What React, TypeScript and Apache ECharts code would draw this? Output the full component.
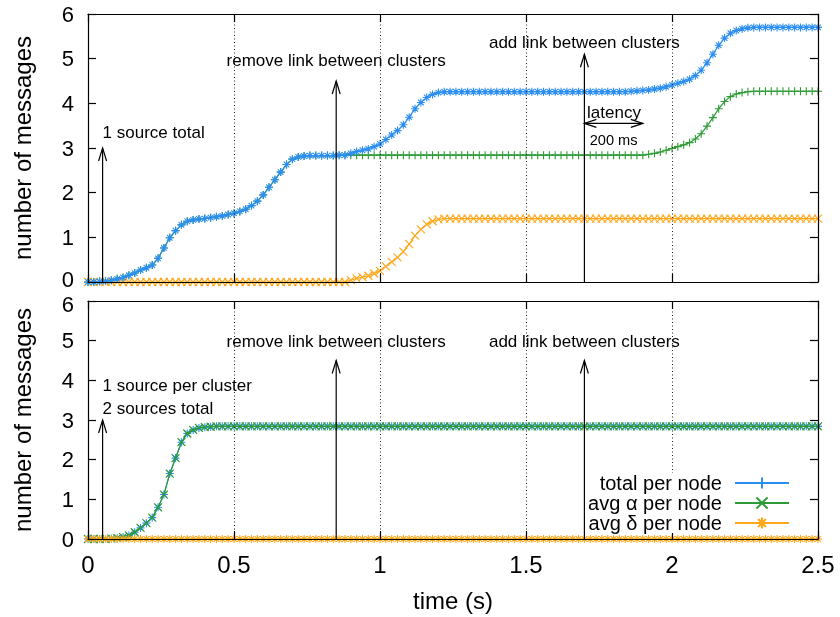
import React, { useEffect, useRef } from "react";
import * as echarts from "echarts";

// sampling step of the simulation output (seconds)
const TIME_STEP = 0.02;

// ---- top panel: 1 source total ----
const topTotal = [
  0, 0, 0.01, 0.02, 0.04, 0.07, 0.1, 0.15, 0.2, 0.27,
  0.32, 0.38, 0.53, 0.76, 0.99, 1.15, 1.28, 1.36, 1.39, 1.41,
  1.42, 1.44, 1.46, 1.48, 1.51, 1.54, 1.58, 1.63, 1.71, 1.81,
  1.95, 2.12, 2.29, 2.46, 2.63, 2.75, 2.8, 2.82, 2.83, 2.83,
  2.83, 2.83, 2.83, 2.84, 2.84, 2.88, 2.92, 2.95, 2.98, 3.03,
  3.09, 3.19, 3.29, 3.39, 3.52, 3.69, 3.88, 4.02, 4.13, 4.2,
  4.24, 4.26, 4.26, 4.26, 4.26, 4.26, 4.26, 4.26, 4.26, 4.26,
  4.26, 4.26, 4.26, 4.26, 4.26, 4.26, 4.26, 4.26, 4.26, 4.26,
  4.26, 4.26, 4.26, 4.26, 4.26, 4.26, 4.26, 4.26, 4.26, 4.26,
  4.26, 4.26, 4.26, 4.27, 4.28, 4.29, 4.3, 4.32, 4.34, 4.37,
  4.41, 4.45, 4.49, 4.54, 4.62, 4.74, 4.91, 5.1, 5.3, 5.46,
  5.57, 5.63, 5.67, 5.69, 5.7, 5.7, 5.7, 5.7, 5.7, 5.7,
  5.7, 5.7, 5.7, 5.7, 5.7, 5.7,
];
const topAlpha = [
  0, 0, 0.01, 0.02, 0.04, 0.07, 0.1, 0.15, 0.2, 0.27,
  0.32, 0.38, 0.53, 0.76, 0.99, 1.15, 1.28, 1.36, 1.39, 1.41,
  1.42, 1.44, 1.46, 1.48, 1.51, 1.54, 1.58, 1.63, 1.71, 1.81,
  1.95, 2.12, 2.29, 2.46, 2.63, 2.75, 2.8, 2.82, 2.83, 2.83,
  2.83, 2.83, 2.83, 2.84, 2.84, 2.84, 2.84, 2.84, 2.84, 2.84,
  2.84, 2.84, 2.84, 2.84, 2.84, 2.84, 2.84, 2.84, 2.84, 2.84,
  2.84, 2.84, 2.84, 2.84, 2.84, 2.84, 2.84, 2.84, 2.84, 2.84,
  2.84, 2.84, 2.84, 2.84, 2.84, 2.84, 2.84, 2.84, 2.84, 2.84,
  2.84, 2.84, 2.84, 2.84, 2.84, 2.84, 2.84, 2.84, 2.84, 2.84,
  2.84, 2.84, 2.84, 2.84, 2.84, 2.84, 2.86, 2.88, 2.91, 2.95,
  2.99, 3.03, 3.07, 3.12, 3.2, 3.32, 3.49, 3.68, 3.88, 4.04,
  4.15, 4.21, 4.24, 4.26, 4.27, 4.27, 4.27, 4.27, 4.27, 4.27,
  4.27, 4.27, 4.27, 4.27, 4.27, 4.27,
];
const topDelta = [
  0, 0, 0, 0, 0, 0, 0, 0, 0, 0,
  0, 0, 0, 0, 0, 0, 0, 0, 0, 0,
  0, 0, 0, 0, 0, 0, 0, 0, 0, 0,
  0, 0, 0, 0, 0, 0, 0, 0, 0, 0,
  0, 0, 0, 0, 0, 0.04, 0.08, 0.11, 0.14, 0.19,
  0.25, 0.35, 0.45, 0.55, 0.68, 0.85, 1.04, 1.18, 1.29, 1.36,
  1.4, 1.42, 1.42, 1.42, 1.42, 1.42, 1.42, 1.42, 1.42, 1.42,
  1.42, 1.42, 1.42, 1.42, 1.42, 1.42, 1.42, 1.42, 1.42, 1.42,
  1.42, 1.42, 1.42, 1.42, 1.42, 1.42, 1.42, 1.42, 1.42, 1.42,
  1.42, 1.42, 1.42, 1.42, 1.42, 1.42, 1.42, 1.42, 1.42, 1.42,
  1.42, 1.42, 1.42, 1.42, 1.42, 1.42, 1.42, 1.42, 1.42, 1.42,
  1.42, 1.42, 1.42, 1.42, 1.42, 1.42, 1.42, 1.42, 1.42, 1.42,
  1.42, 1.42, 1.42, 1.42, 1.42, 1.42,
];

// ---- bottom panel: 1 source per cluster ----
const bottomTotal = [
  0, 0, 0, 0, 0.01, 0.02, 0.05, 0.09, 0.17, 0.28,
  0.4, 0.54, 0.8, 1.12, 1.65, 2.04, 2.44, 2.66, 2.75, 2.8,
  2.82, 2.83, 2.84, 2.84, 2.84, 2.84, 2.84, 2.84, 2.84, 2.84,
  2.84, 2.84, 2.84, 2.84, 2.84, 2.84, 2.84, 2.84, 2.84, 2.84,
  2.84, 2.84, 2.84, 2.84, 2.84, 2.84, 2.84, 2.84, 2.84, 2.84,
  2.84, 2.84, 2.84, 2.84, 2.84, 2.84, 2.84, 2.84, 2.84, 2.84,
  2.84, 2.84, 2.84, 2.84, 2.84, 2.84, 2.84, 2.84, 2.84, 2.84,
  2.84, 2.84, 2.84, 2.84, 2.84, 2.84, 2.84, 2.84, 2.84, 2.84,
  2.84, 2.84, 2.84, 2.84, 2.84, 2.84, 2.84, 2.84, 2.84, 2.84,
  2.84, 2.84, 2.84, 2.84, 2.84, 2.84, 2.84, 2.84, 2.84, 2.84,
  2.84, 2.84, 2.84, 2.84, 2.84, 2.84, 2.84, 2.84, 2.84, 2.84,
  2.84, 2.84, 2.84, 2.84, 2.84, 2.84, 2.84, 2.84, 2.84, 2.84,
  2.84, 2.84, 2.84, 2.84, 2.84, 2.84,
];
const bottomAlpha = [
  0, 0, 0, 0, 0.01, 0.02, 0.05, 0.09, 0.17, 0.28,
  0.4, 0.54, 0.8, 1.12, 1.65, 2.04, 2.44, 2.66, 2.75, 2.8,
  2.82, 2.83, 2.84, 2.84, 2.84, 2.84, 2.84, 2.84, 2.84, 2.84,
  2.84, 2.84, 2.84, 2.84, 2.84, 2.84, 2.84, 2.84, 2.84, 2.84,
  2.84, 2.84, 2.84, 2.84, 2.84, 2.84, 2.84, 2.84, 2.84, 2.84,
  2.84, 2.84, 2.84, 2.84, 2.84, 2.84, 2.84, 2.84, 2.84, 2.84,
  2.84, 2.84, 2.84, 2.84, 2.84, 2.84, 2.84, 2.84, 2.84, 2.84,
  2.84, 2.84, 2.84, 2.84, 2.84, 2.84, 2.84, 2.84, 2.84, 2.84,
  2.84, 2.84, 2.84, 2.84, 2.84, 2.84, 2.84, 2.84, 2.84, 2.84,
  2.84, 2.84, 2.84, 2.84, 2.84, 2.84, 2.84, 2.84, 2.84, 2.84,
  2.84, 2.84, 2.84, 2.84, 2.84, 2.84, 2.84, 2.84, 2.84, 2.84,
  2.84, 2.84, 2.84, 2.84, 2.84, 2.84, 2.84, 2.84, 2.84, 2.84,
  2.84, 2.84, 2.84, 2.84, 2.84, 2.84,
];
const bottomDelta = [
  0, 0, 0, 0, 0, 0, 0, 0, 0, 0,
  0, 0, 0, 0, 0, 0, 0, 0, 0, 0,
  0, 0, 0, 0, 0, 0, 0, 0, 0, 0,
  0, 0, 0, 0, 0, 0, 0, 0, 0, 0,
  0, 0, 0, 0, 0, 0, 0, 0, 0, 0,
  0, 0, 0, 0, 0, 0, 0, 0, 0, 0,
  0, 0, 0, 0, 0, 0, 0, 0, 0, 0,
  0, 0, 0, 0, 0, 0, 0, 0, 0, 0,
  0, 0, 0, 0, 0, 0, 0, 0, 0, 0,
  0, 0, 0, 0, 0, 0, 0, 0, 0, 0,
  0, 0, 0, 0, 0, 0, 0, 0, 0, 0,
  0, 0, 0, 0, 0, 0, 0, 0, 0, 0,
  0, 0, 0, 0, 0, 0,
];

const X_TICKS = [0, 0.5, 1, 1.5, 2, 2.5];
const LEGEND_NAMES = ["total per node", "avg α per node", "avg δ per node"];

// annotations (data coordinates)
const topArrows = [
  { t: 0.05, v: 3.0 },
  { t: 0.85, v: 4.5 },
  { t: 1.7, v: 5.1 },
];
const bottomArrows = [
  { t: 0.05, v: 3.0 },
  { t: 0.85, v: 4.5 },
  { t: 1.7, v: 4.5 },
];
const topLabels = [
  { text: "1 source total", t: 0.05, v: 3.34, align: "left", size: 17 },
  { text: "remove link between clusters", t: 0.85, v: 4.97, align: "center", size: 17 },
  { text: "add link between clusters", t: 1.7, v: 5.37, align: "center", size: 17 },
  { text: "latency", t: 1.709, v: 3.8, align: "left", size: 17 },
  { text: "200 ms", t: 1.8, v: 3.18, align: "center", size: 14.6 },
];
const bottomLabels = [
  { text: "1 source per cluster", t: 0.05, v: 3.88, align: "left", size: 17 },
  { text: "2 sources total", t: 0.05, v: 3.28, align: "left", size: 17 },
  { text: "remove link between clusters", t: 0.85, v: 4.99, align: "center", size: 17 },
  { text: "add link between clusters", t: 1.7, v: 4.99, align: "center", size: 17 },
];
const latency = { t0: 1.7, t1: 1.9, v: 3.55 };

const PLUS = "path://M5,0L5,10M0,5L10,5";
const CROSS = "path://M0,0L10,10M10,0L0,10";
const STAR = "path://M5,0L5,10M0,5L10,5M1.5,1.5L8.5,8.5M8.5,1.5L1.5,8.5";

const C_TOTAL = "#2b8ef0";
const C_ALPHA = "#2e9b36";
const C_DELTA = "#ffa71a";
const FONT = "Liberation Sans";
const Y_TICK_FONT = 22;

function toPairs(vals: number[]) {
  return vals.map((v, i) => [Math.round(i * TIME_STEP * 100) / 100, v]);
}

function mkSeries(name: string, vals: number[], color: string, symbol: string, axis: number, z: number) {
  return {
    type: "line",
    name,
    xAxisIndex: axis,
    yAxisIndex: axis,
    data: toPairs(vals),
    symbol,
    symbolSize: 8,
    showSymbol: true,
    showAllSymbol: true,
    lineStyle: { color, width: 1.2 },
    itemStyle: { color, borderColor: color, borderWidth: 1.1 },
    z,
    silent: true,
    emphasis: { disabled: true },
  };
}

function legendSeries(name: string, color: string, symbol: string) {
  return {
    type: "line",
    name,
    xAxisIndex: 2,
    yAxisIndex: 2,
    data: [],
    symbol,
    symbolSize: 9,
    lineStyle: { color, width: 1.2 },
    itemStyle: { color, borderColor: color, borderWidth: 1.2 },
    silent: true,
  };
}

const axisLineStyle = { color: "#000", width: 1.2 };

function xAxes(grid: number, labels: boolean) {
  return [
    {
      type: "value",
      gridIndex: grid,
      position: "bottom",
      min: 0,
      max: 2.5,
      interval: 0.5,
      z: 5,
      axisLine: { show: true, onZero: false, lineStyle: axisLineStyle },
      axisTick: { show: true, inside: true, length: 8, lineStyle: axisLineStyle },
      axisLabel: {
        show: labels,
        fontSize: 24,
        color: "#000",
        fontFamily: FONT,
        margin: 13,
        formatter: (v: number) => (X_TICKS.includes(v) ? String(v) : ""),
      },
      splitLine: { show: true, lineStyle: { color: "#222", width: 1, type: [1, 2.5] } },
      name: labels ? "time (s)" : "",
      nameLocation: "middle",
      nameGap: 49,
      nameTextStyle: { fontSize: 24, color: "#000", fontFamily: FONT },
    },
    {
      type: "value",
      gridIndex: grid,
      position: "top",
      min: 0,
      max: 2.5,
      interval: 0.5,
      z: 5,
      axisLine: { show: true, onZero: false, lineStyle: axisLineStyle },
      axisTick: { show: true, inside: true, length: 8, lineStyle: axisLineStyle },
      axisLabel: { show: false },
      splitLine: { show: false },
    },
  ];
}

// the top panel's "0" and the bottom panel's "6" sit close together;
// nudge them apart slightly so they do not collide.
function yAxes(grid: number) {
  const nudge = grid === 0
    ? { value: 0, key: "lo", padding: [0, 0, 6, 0] }
    : { value: 6, key: "hi", padding: [6, 0, 0, 0] };
  return [
    {
      type: "value",
      gridIndex: grid,
      position: "left",
      min: 0,
      max: 6,
      interval: 1,
      z: 5,
      axisLine: { show: true, onZero: false, lineStyle: axisLineStyle },
      axisTick: { show: true, inside: true, length: 8, lineStyle: axisLineStyle },
      axisLabel: {
        fontSize: Y_TICK_FONT,
        color: "#000",
        fontFamily: FONT,
        margin: 14,
        formatter: (v: number) => (v === nudge.value ? `{${nudge.key}|${v}}` : String(v)),
        rich: {
          [nudge.key]: {
            fontSize: Y_TICK_FONT,
            fontFamily: FONT,
            color: "#000",
            padding: nudge.padding,
          },
        },
      },
      splitLine: { show: false },
      name: "number of messages",
      nameLocation: "middle",
      nameRotate: 90,
      nameGap: 54,
      nameTextStyle: { fontSize: 24, color: "#000", fontFamily: FONT },
    },
    {
      type: "value",
      gridIndex: grid,
      position: "right",
      min: 0,
      max: 6,
      interval: 1,
      z: 5,
      axisLine: { show: true, onZero: false, lineStyle: axisLineStyle },
      axisTick: { show: true, inside: true, length: 8, lineStyle: axisLineStyle },
      axisLabel: { show: false },
      splitLine: { show: false },
    },
  ];
}

export default function App() {
  const ref = useRef<HTMLDivElement>(null);
  useEffect(() => {
    if (!ref.current) return;
    const chart = echarts.init(ref.current, undefined, { renderer: "svg" });
    const [xa, xb] = xAxes(0, false);
    const [xc, xd] = xAxes(1, true);
    const [ya, yb] = yAxes(0);
    const [yc, yd] = yAxes(1);
    chart.setOption({
      animation: false,
      textStyle: { fontFamily: FONT },
      grid: [
        { left: 88, top: 14, width: 730, height: 268 },
        { left: 88, top: 301, width: 730, height: 238 },
      ],
      xAxis: [xa, xb, xc, xd],
      yAxis: [ya, yb, yc, yd],
      legend: {
        data: LEGEND_NAMES,
        orient: "vertical",
        right: 50,
        top: 473,
        padding: 0,
        z: 8,
        backgroundColor: "#fff",
        align: "right",
        itemWidth: 54,
        itemHeight: 14,
        itemGap: 0,
        selectedMode: false,
        textStyle: {
          fontSize: 20,
          color: "#000",
          fontFamily: FONT,
          lineHeight: 20,
          padding: [0, 8, 0, 0],
        },
      },
      series: [
        mkSeries("top α", topAlpha, C_ALPHA, PLUS, 0, 2),
        mkSeries("top δ", topDelta, C_DELTA, CROSS, 0, 3),
        mkSeries("top total", topTotal, C_TOTAL, STAR, 0, 4),
        mkSeries("bottom total", bottomTotal, C_TOTAL, STAR, 2, 2),
        mkSeries("bottom α", bottomAlpha, C_ALPHA, CROSS, 2, 3),
        mkSeries("bottom δ", bottomDelta, C_DELTA, STAR, 2, 4),
        legendSeries(LEGEND_NAMES[0], C_TOTAL, PLUS),
        legendSeries(LEGEND_NAMES[1], C_ALPHA, CROSS),
        legendSeries(LEGEND_NAMES[2], C_DELTA, STAR),
      ],
    });

    const ink = { stroke: "#000", lineWidth: 1.2, fill: null as any };
    const graphics: any[] = [];
    const panels = [
      { axis: 0, arrows: topArrows, labels: topLabels },
      { axis: 2, arrows: bottomArrows, labels: bottomLabels },
    ];
    panels.forEach((p) => {
      const toPx = (t: number, v: number) =>
        chart.convertToPixel({ xAxisIndex: p.axis, yAxisIndex: p.axis }, [t, v]) as number[];
      p.arrows.forEach((a) => {
        const [x0, y0] = toPx(a.t, 0);
        const [x1, y1] = toPx(a.t, a.v);
        graphics.push({ type: "line", shape: { x1: x0, y1: y0, x2: x1, y2: y1 }, style: ink, z: 10 });
        graphics.push({
          type: "polyline",
          shape: { points: [[x1 - 4, y1 + 13], [x1, y1], [x1 + 4, y1 + 13]] },
          style: ink,
          z: 10,
        });
      });
      p.labels.forEach((l) => {
        const [x, y] = toPx(l.t, l.v);
        graphics.push({
          type: "text",
          x,
          y,
          z: 10,
          style: {
            text: l.text,
            fontSize: l.size,
            fontFamily: FONT,
            fill: "#000",
            align: l.align,
            verticalAlign: "middle",
          },
        });
      });
    });
    {
      const toPx = (t: number, v: number) =>
        chart.convertToPixel({ xAxisIndex: 0, yAxisIndex: 0 }, [t, v]) as number[];
      const [xl, y] = toPx(latency.t0, latency.v);
      const [xr] = toPx(latency.t1, latency.v);
      graphics.push({ type: "line", shape: { x1: xl, y1: y, x2: xr, y2: y }, style: ink, z: 10 });
      graphics.push({
        type: "polyline",
        shape: { points: [[xl + 12, y - 4], [xl, y], [xl + 12, y + 4]] },
        style: ink,
        z: 10,
      });
      graphics.push({
        type: "polyline",
        shape: { points: [[xr - 12, y - 4], [xr, y], [xr - 12, y + 4]] },
        style: ink,
        z: 10,
      });
    }
    chart.setOption({ graphic: graphics });
    return () => chart.dispose();
  }, []);
  return (
    <div
      ref={ref}
      style={{ position: "fixed", left: 0, top: 0, width: 840, height: 617 }}
    />
  );
}
